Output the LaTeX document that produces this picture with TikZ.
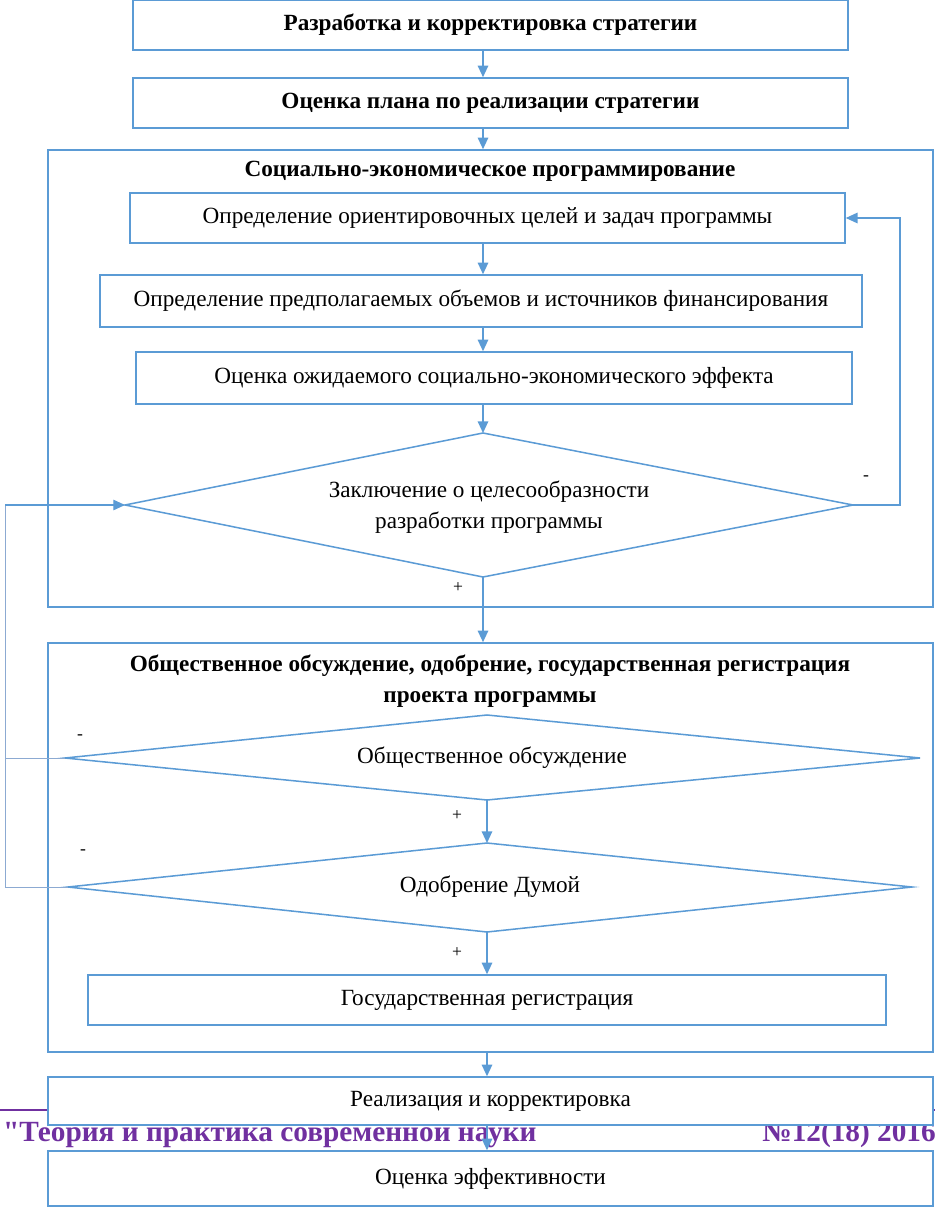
\documentclass[tikz,border=0pt]{standalone}
\usepackage{fontspec}
\setmainfont{Liberation Serif}
\usetikzlibrary{shapes.geometric, positioning, arrows.meta, calc}

\definecolor{lineblue}{RGB}{91,155,213}
\definecolor{thinblue}{RGB}{140,170,210}
\definecolor{journal}{RGB}{112,48,160}

\tikzset{
  blk/.style={draw=lineblue, line width=1.3pt, rectangle, fill=white, inner sep=0pt,
    font=\fontsize{19.8}{24}\selectfont},
  frame/.style={draw=lineblue, line width=1.3pt, rectangle, inner sep=0pt},
  dia/.style={lineblue, line width=1.3pt},
  dtext/.style={inner sep=0pt, align=center, font=\fontsize{19.8}{26}\selectfont},
  flow/.style={lineblue, line width=1.3pt, -{Triangle[length=10pt,width=9pt]}},
  back/.style={thinblue, line width=0.8pt},
  sign/.style={font=\fontsize{15}{17}\selectfont, inner sep=0pt},
  ttl/.style={font=\fontsize{19.8}{26}\selectfont\bfseries, align=center, inner sep=0pt},
  runhead/.style={journal, inner sep=0pt, font=\fontsize{25}{28}\selectfont\bfseries},
}

\begin{document}
\begin{tikzpicture}[x=0.03cm, y=-0.03cm]
    \useasboundingbox (0,0) rectangle (935,1208);

    % 1. Strategy boxes on top
    \node[blk, font=\fontsize{19.8}{24}\selectfont\bfseries, minimum width=21.45cm, minimum height=1.5cm] (strat) at (490.5,25) {Разработка и корректировка стратегии};
    \node[blk, font=\fontsize{19.8}{24}\selectfont\bfseries, minimum width=21.45cm, minimum height=1.5cm] (plan) at (490.5,103) {Оценка плана по реализации стратегии};

    % 2. First frame: programming
    \node[frame, minimum width=26.55cm, minimum height=13.71cm] (prog) at (490.5,378.5) {};
    \node[ttl] (progtitle) at (490,171) {Социально-экономическое программирование};
    \node[blk, minimum width=21.45cm, minimum height=1.5cm] (goals) at (487.5,218) {Определение ориентировочных целей и задач программы};
    \node[blk, minimum width=22.86cm, minimum height=1.56cm] (funds) at (481,301) {Определение предполагаемых объемов и источников финансирования};
    \node[blk, minimum width=21.48cm, minimum height=1.56cm] (effect) at (494,378) {Оценка ожидаемого социально-экономического эффекта};
    % decision diamond, corners as coordinates
    \coordinate (concl n) at (483,433);
    \coordinate (concl s) at (483,577);
    \coordinate (concl w) at (125,505);
    \coordinate (concl e) at (853,505);
    \draw[dia] (concl n) -- (concl e) -- (concl s) -- (concl w) -- cycle;
    \node[dtext] (concl) at (489,507) {Заключение о целесообразности\\разработки программы};
    \node[sign] (concl minus) at (866,478) {-};
    \node[sign] (concl plus) at (458,588) {+};

    % 3. Second frame: discussion and registration
    \node[frame, minimum width=26.55cm, minimum height=12.27cm] (reg) at (490.5,847.5) {};
    \node[ttl] (regtitle) at (490,681) {Общественное обсуждение, одобрение, государственная регистрация\\проекта программы};
    \coordinate (public n) at (487,715);
    \coordinate (public s) at (487,800);
    \coordinate (public w) at (65,758);
    \coordinate (public e) at (920,758);
    \draw[dia] (public n) -- (public e) -- (public s) -- (public w) -- cycle;
    \node[dtext] (public) at (492,758) {Общественное обсуждение};
    \node[sign] (public minus) at (80,737) {-};
    \node[sign] (public plus) at (457,816) {+};
    \coordinate (duma n) at (487,843);
    \coordinate (duma s) at (487,932);
    \coordinate (duma w) at (68,887);
    \coordinate (duma e) at (912,887);
    \draw[dia] (duma n) -- (duma e) -- (duma s) -- (duma w) -- cycle;
    \node[dtext] (duma) at (490,887) {Одобрение Думой};
    \node[sign] (duma minus) at (83,852) {-};
    \node[sign] (duma plus) at (457,953) {+};
    \node[blk, minimum width=23.94cm, minimum height=1.5cm] (state) at (487,1000) {Государственная регистрация};

    % 4. Journal running head (lies under the next box)
    \draw[journal, line width=1.5pt] (0,1110) -- (935,1110);
    \node[runhead, anchor=base west] (jname) at (3,1141) {\textquotedbl Теория и практика современной науки};
    \node[runhead, anchor=base east] (jnum) at (936,1141) {№12(18) 2016};

    % 5. Last boxes
    \node[blk, minimum width=26.55cm, minimum height=1.44cm] (impl) at (490.5,1101) {Реализация и корректировка};
    \node[blk, minimum width=26.55cm, minimum height=1.65cm] (eval) at (490.5,1178.5) {Оценка эффективности};

    % 6. Main flow
    \draw[flow] (strat.south -| concl n) -- (plan.north -| concl n);
    \draw[flow] (plan.south -| concl n) -- (prog.north -| concl n);
    \draw[flow] (goals.south -| concl n) -- (funds.north -| concl n);
    \draw[flow] (funds.south -| concl n) -- (effect.north -| concl n);
    \draw[flow] (effect.south -| concl n) -- (concl n);
    \draw[flow] (concl s) -- (concl s |- reg.north);
    \draw[flow] (public s) -- (duma n);
    \draw[flow] (duma s) -- (duma s |- state.north);
    \draw[flow] (reg.south -| public s) -- (impl.north -| public s);
    \draw[flow] (impl.south -| public s) -- (eval.north -| public s);

    % 7. Feedback loops
    \draw[lineblue, line width=0.9pt, -{Triangle[length=10pt,width=9pt]}] (concl e) -- ++(47,0) |- (goals.east);
    \coordinate (leftrail) at (5,887);
    \draw[back] (public w) -- (public w -| leftrail);
    \draw[back] (duma w) -- (leftrail) -- (leftrail |- concl w);
    \draw[lineblue, line width=0.9pt, -{Triangle[length=10pt,width=9pt]}] (leftrail |- concl w) -- (concl w);

\end{tikzpicture}
\end{document}
